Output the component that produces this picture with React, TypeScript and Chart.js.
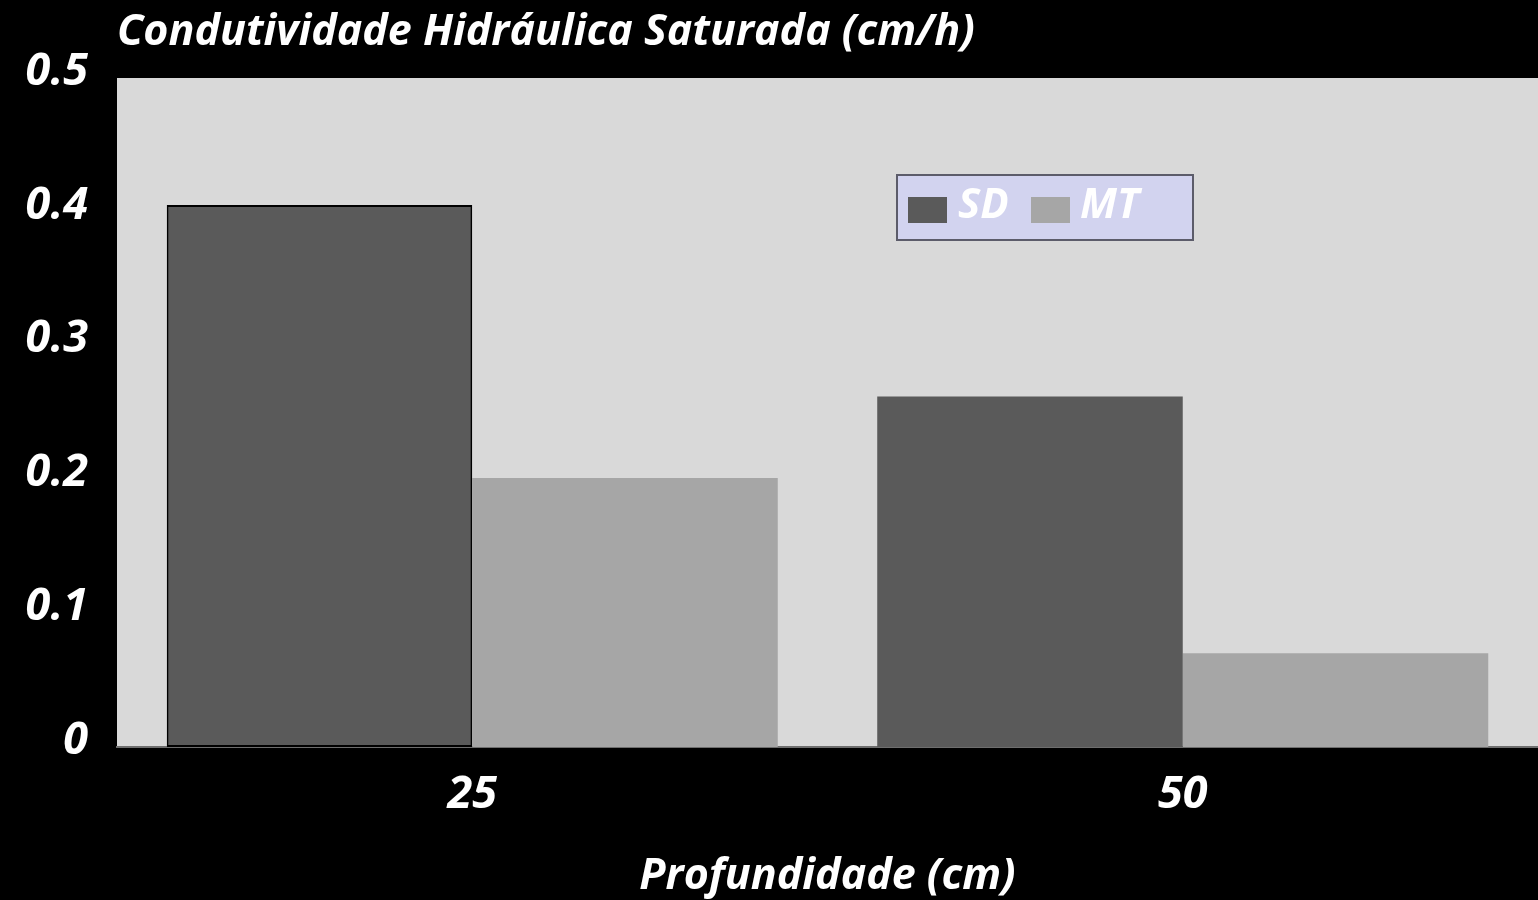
import React, { useEffect, useRef } from 'react';
import { Chart, registerables } from 'chart.js';

Chart.register(...registerables);

// Chart text and data
const TITLE = 'Condutividade Hidráulica Saturada (cm/h)';
const X_TITLE = 'Profundidade (cm)';
const DEPTHS = ['25', '50'];
const SERIES_NAMES = ['SD', 'MT'];
const SD_VALUES = [0.405, 0.262];
const MT_VALUES = [0.201, 0.07];
const Y_TICKS = [0, 0.1, 0.2, 0.3, 0.4, 0.5];

const FONT_FAMILY = "'Comic Sans MS', 'Open Sans', sans-serif";
const SD_COLOR = '#5a5a5a';
const MT_COLOR = '#a6a6a6';
const PLOT_BG = '#d9d9d9';

const W = 1538;
const H = 900;

// Black page background plus the light grey plot area
const backgroundPlugin = {
  id: 'plotBackground',
  beforeDraw(chart: any) {
    const { ctx, chartArea } = chart;
    ctx.save();
    ctx.fillStyle = '#000';
    ctx.fillRect(0, 0, chart.width, chart.height);
    ctx.fillStyle = PLOT_BG;
    ctx.fillRect(chartArea.left, chartArea.top, chartArea.right - chartArea.left, chartArea.bottom - chartArea.top);
    ctx.restore();
  },
};

// Title written above the plot, starting at the plot's left edge
const titlePlugin = {
  id: 'leftTitle',
  afterDraw(chart: any) {
    const { ctx, chartArea } = chart;
    ctx.save();
    ctx.fillStyle = '#fff';
    ctx.font = `italic bold 43px ${FONT_FAMILY}`;
    ctx.textAlign = 'left';
    ctx.textBaseline = 'alphabetic';
    ctx.fillText(TITLE, chartArea.left, 45);
    ctx.restore();
  },
};

// Boxed legend sitting inside the plot area
const boxLegendPlugin = {
  id: 'boxLegend',
  afterDatasetsDraw(chart: any) {
    const { ctx } = chart;
    const boxX = 897;
    const boxY = 175;
    const boxW = 296;
    const boxH = 65;
    ctx.save();
    ctx.fillStyle = '#d2d3ef';
    ctx.fillRect(boxX, boxY, boxW, boxH);
    ctx.strokeStyle = '#5c5c6a';
    ctx.lineWidth = 2;
    ctx.strokeRect(boxX, boxY, boxW, boxH);

    const itemX = [908, 1031];
    const textX = [958, 1080];
    chart.data.datasets.forEach((ds: any, i: number) => {
      ctx.fillStyle = ds.backgroundColor;
      ctx.fillRect(itemX[i], 197, 39, 26);
      ctx.fillStyle = '#fff';
      ctx.font = `italic bold 42px ${FONT_FAMILY}`;
      ctx.textAlign = 'left';
      ctx.textBaseline = 'alphabetic';
      ctx.fillText(ds.label, textX[i], 218);
    });
    ctx.restore();
  },
};

export default function App() {
  const canvasRef = useRef<HTMLCanvasElement | null>(null);

  useEffect(() => {
    const canvas = canvasRef.current;
    if (!canvas) return;
    const chart = new Chart(canvas, {
      type: 'bar',
      data: {
        labels: DEPTHS,
        datasets: [
          {
            label: SERIES_NAMES[0],
            data: SD_VALUES,
            backgroundColor: SD_COLOR,
            borderColor: '#000',
            borderWidth: [2, 0],
            borderSkipped: false,
          },
          {
            label: SERIES_NAMES[1],
            data: MT_VALUES,
            backgroundColor: MT_COLOR,
            borderWidth: 0,
          },
        ],
      },
      options: {
        responsive: false,
        animation: false,
        devicePixelRatio: 1,
        layout: { padding: { top: 78, left: 0, right: 0, bottom: 0 } },
        datasets: {
          bar: { categoryPercentage: 0.86, barPercentage: 1 },
        },
        plugins: {
          legend: { display: false },
          tooltip: { enabled: false },
          title: { display: false },
        },
        scales: {
          x: {
            grid: { display: false, drawTicks: false },
            border: { display: true, color: '#6e6e6e', width: 2 },
            ticks: {
              color: '#fff',
              padding: 21,
              font: { family: FONT_FAMILY, size: 45, style: 'italic', weight: 'bold' },
            },
            title: {
              display: true,
              text: X_TITLE,
              color: '#fff',
              padding: { top: 0, bottom: -3 },
              font: { family: FONT_FAMILY, size: 43, style: 'italic', weight: 'bold' },
            },
            afterFit(scale: any) {
              scale.height = 153;
            },
          },
          y: {
            min: 0,
            max: 0.5,
            grid: { display: false, drawTicks: false },
            border: { display: false },
            afterBuildTicks(scale: any) {
              scale.ticks = Y_TICKS.map((v) => ({ value: v }));
            },
            ticks: {
              color: '#fff',
              padding: 29,
              labelOffset: -6,
              font: { family: FONT_FAMILY, size: 45, style: 'italic', weight: 'bold' },
              callback: (v: any) => (Number(v) === 0 ? '0' : Number(v).toFixed(1)),
            },
            afterFit(scale: any) {
              scale.width = 117;
            },
          },
        },
      },
      plugins: [backgroundPlugin, titlePlugin, boxLegendPlugin],
    });
    return () => chart.destroy();
  }, []);

  return (
    <div style={{ position: 'fixed', left: 0, top: 0, width: W, height: H, background: '#000' }}>
      <canvas ref={canvasRef} width={W} height={H} style={{ display: 'block', width: W, height: H }} />
    </div>
  );
}
